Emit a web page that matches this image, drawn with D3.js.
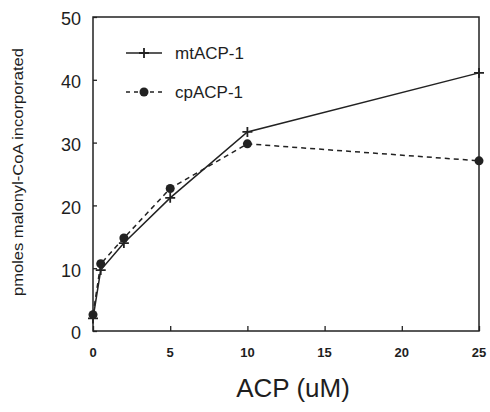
<!DOCTYPE html>
<html>
<head>
<meta charset="utf-8">
<script src="https://cdn.jsdelivr.net/npm/d3@7"></script>
<style>
  html, body { margin: 0; padding: 0; background: #fff; }
  svg { display: block; }
  text { font-family: "Liberation Sans", Arial, Helvetica, sans-serif; fill: #1e1e1e; }
</style>
</head>
<body>
<svg id="chart" width="490" height="412"></svg>
<script>
// ---- data ----
const acp = [0, 0.5, 2, 5, 10, 25];
const mtACP1 = [2.0, 9.7, 14.0, 21.2, 31.7, 41.1];
const cpACP1 = [2.6, 10.7, 14.8, 22.7, 29.8, 27.1];
const xTicks = [0, 5, 10, 15, 20, 25];
const yTicks = [0, 10, 20, 30, 40, 50];
const seriesNames = ["mtACP-1", "cpACP-1"];
const xTitle = "ACP (uM)";
const yTitle = "pmoles malonyl-CoA incorporated";

// ---- layout ----
const W = 490, H = 412;
const L = 93, R = 479, T = 17, B = 331;
const ink = "#222";

const svg = d3.select("#chart");
const x = d3.scaleLinear().domain([0, 25]).range([L, R]);
const y = d3.scaleLinear().domain([0, 50]).range([B, T]);

// frame
svg.append("rect")
  .attr("x", L).attr("y", T).attr("width", R - L).attr("height", B - T)
  .attr("fill", "none").attr("stroke", ink).attr("stroke-width", 1.5);

// y axis (inward ticks)
const yAxis = svg.append("g").attr("transform", `translate(${L},0)`)
  .call(d3.axisRight(y).tickValues(yTicks).tickSize(4).tickFormat(""));
yAxis.select(".domain").remove();
yAxis.selectAll("line").attr("stroke", ink).attr("stroke-width", 1.3);

svg.append("g").selectAll("text").data(yTicks).join("text")
  .attr("x", L - 12).attr("y", d => y(d) + 2)
  .attr("dy", "0.35em")
  .attr("text-anchor", "end")
  .style("font-size", "18px")
  .text(d => d);

// x axis (inward ticks)
const xAxis = svg.append("g").attr("transform", `translate(0,${B})`)
  .call(d3.axisTop(x).tickValues(xTicks).tickSize(5).tickFormat(""));
xAxis.select(".domain").remove();
xAxis.selectAll("line").attr("stroke", ink).attr("stroke-width", 1.3);

svg.append("g").selectAll("text").data(xTicks).join("text")
  .attr("x", d => x(d)).attr("y", 357)
  .attr("text-anchor", "middle")
  .style("font-size", "13px").style("font-weight", "bold")
  .text(d => d);

// titles
svg.append("text")
  .attr("x", 293).attr("y", 397)
  .attr("text-anchor", "middle")
  .style("font-size", "26px")
  .text(xTitle);

svg.append("text")
  .attr("transform", "translate(23,172) rotate(-90)")
  .attr("text-anchor", "middle")
  .attr("textLength", 248).attr("lengthAdjust", "spacingAndGlyphs")
  .style("font-size", "14px")
  .text(yTitle);

// lines
const line = d3.line().x(d => x(d[0])).y(d => y(d[1]));
const mtPts = acp.map((v, i) => [v, mtACP1[i]]);
const cpPts = acp.map((v, i) => [v, cpACP1[i]]);

svg.append("path").datum(cpPts).attr("d", line)
  .attr("fill", "none").attr("stroke", ink).attr("stroke-width", 1.5)
  .attr("stroke-dasharray", "5,4");
svg.append("path").datum(mtPts).attr("d", line)
  .attr("fill", "none").attr("stroke", ink).attr("stroke-width", 1.5);

function plus(g, cx, cy) {
  g.append("path")
    .attr("d", `M${cx - 5},${cy}H${cx + 5}M${cx},${cy - 5}V${cy + 5}`)
    .attr("stroke", ink).attr("stroke-width", 1.8).attr("fill", "none");
}

// markers
svg.append("g").selectAll("circle").data(cpPts).join("circle")
  .attr("cx", d => x(d[0])).attr("cy", d => y(d[1])).attr("r", 4.5)
  .attr("fill", ink);
const mg = svg.append("g");
mtPts.forEach(d => plus(mg, x(d[0]), y(d[1])));

// legend
const lg = svg.append("g");
const rows = [53, 92];
lg.append("line").attr("x1", 126).attr("x2", 162).attr("y1", rows[0]).attr("y2", rows[0])
  .attr("stroke", ink).attr("stroke-width", 1.5);
plus(lg, 144, rows[0]);
lg.append("line").attr("x1", 126).attr("x2", 162).attr("y1", rows[1]).attr("y2", rows[1])
  .attr("stroke", ink).attr("stroke-width", 1.5).attr("stroke-dasharray", "4,4");
lg.append("circle").attr("cx", 144).attr("cy", rows[1]).attr("r", 4.5).attr("fill", ink);
lg.selectAll("text").data(seriesNames).join("text")
  .attr("x", 175).attr("y", (d, i) => rows[i] + 6)
  .style("font-size", "17px")
  .text(d => d);
</script>
</body>
</html>
